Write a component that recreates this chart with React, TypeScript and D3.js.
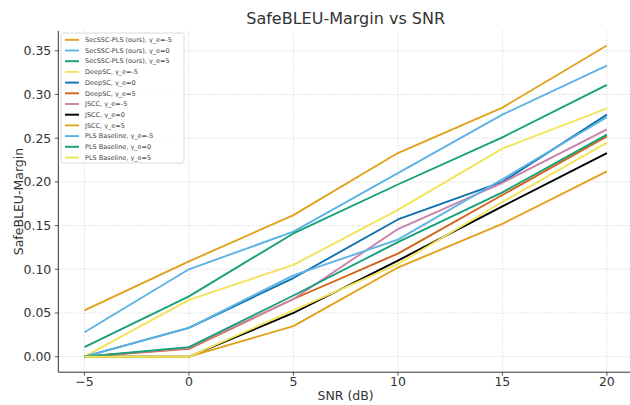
import React from "react";
import * as d3 from "d3";

const snr = [-5, 0, 5, 10, 15, 20];

const seriesNames = [
  "SecSSC-PLS (ours), γ_e=-5",
  "SecSSC-PLS (ours), γ_e=0",
  "SecSSC-PLS (ours), γ_e=5",
  "DeepSC, γ_e=-5",
  "DeepSC, γ_e=0",
  "DeepSC, γ_e=5",
  "JSCC, γ_e=-5",
  "JSCC, γ_e=0",
  "JSCC, γ_e=5",
  "PLS Baseline, γ_e=-5",
  "PLS Baseline, γ_e=0",
  "PLS Baseline, γ_e=5",
];

const secsscM5 = [0.053, 0.109, 0.162, 0.233, 0.285, 0.356];
const secssc0 = [0.028, 0.1, 0.143, 0.21, 0.277, 0.333];
const secssc5 = [0.011, 0.069, 0.141, 0.197, 0.251, 0.311];
const deepscM5 = [0.0, 0.065, 0.105, 0.168, 0.238, 0.284];
const deepsc0 = [0.0, 0.033, 0.09, 0.157, 0.2, 0.277];
const deepsc5 = [0.0, 0.009, 0.066, 0.118, 0.185, 0.252];
const jsccM5 = [0.0, 0.01, 0.066, 0.146, 0.199, 0.26];
const jscc0 = [0.0, 0.0, 0.05, 0.11, 0.172, 0.233];
const jscc5 = [0.0, 0.0, 0.035, 0.102, 0.152, 0.212];
const plsM5 = [0.0, 0.033, 0.093, 0.134, 0.203, 0.274];
const pls0 = [0.0, 0.011, 0.07, 0.131, 0.188, 0.254];
const pls5 = [0.0, 0.0, 0.053, 0.106, 0.177, 0.245];

const seriesValues = [
  secsscM5, secssc0, secssc5,
  deepscM5, deepsc0, deepsc5,
  jsccM5, jscc0, jscc5,
  plsM5, pls0, pls5,
];

const palette = ["#E1A21A", "#5DB3E4", "#16A077", "#F0E45A", "#0F72AE", "#D4631A", "#CC81AB", "#000000"];

const xTicks = [-5, 0, 5, 10, 15, 20];
const yTicks = [0, 0.05, 0.1, 0.15, 0.2, 0.25, 0.3, 0.35];

const W = 630;
const H = 405;
const left = 58.3;
const right = 633;
const top = 30.9;
const bottom = 372.2;

const FONT = "'DejaVu Sans', sans-serif";

export default function App() {
  const x = d3.scaleLinear().domain([-6.25, 21.25]).range([left, right]);
  const y = d3.scaleLinear().domain([-0.01775, 0.37275]).range([bottom, top]);
  const line = d3
    .line<[number, number]>()
    .x((d) => x(d[0]))
    .y((d) => y(d[1]));

  const fmtY = (v: number) => v.toFixed(2);
  const fmtX = (v: number) => (v < 0 ? "\u2212" + Math.abs(v) : String(v));

  const legX = 61;
  const legY = 33;
  const legW = 123;
  const rowH = 10.7;
  const legH = 130;

  return (
    <svg
      width={W}
      height={H}
      style={{ position: "absolute", left: 0, top: 0, background: "#fff" }}
      fontFamily={FONT}
    >
      <rect x={0} y={0} width={W} height={H} fill="#fff" />
      {/* grid */}
      {xTicks.map((t) => (
        <line key={"gx" + t} x1={x(t)} x2={x(t)} y1={top} y2={bottom} stroke="#d3d3d3" strokeWidth={0.8} strokeDasharray="1.5,1.5" />
      ))}
      {yTicks.map((t) => (
        <line key={"gy" + t} x1={left} x2={right} y1={y(t)} y2={y(t)} stroke="#d3d3d3" strokeWidth={0.8} strokeDasharray="1.5,1.5" />
      ))}
      {/* lines */}
      {seriesValues.map((vals, i) => (
        <path
          key={"s" + i}
          d={line(snr.map((s, j) => [s, vals[j]] as [number, number])) || ""}
          fill="none"
          stroke={palette[i % palette.length]}
          strokeWidth={1.9}
          strokeLinejoin="round"
        />
      ))}
      {/* spines */}
      <line x1={left} x2={left} y1={top} y2={bottom} stroke="#333" strokeWidth={1} />
      <line x1={left} x2={right} y1={bottom} y2={bottom} stroke="#333" strokeWidth={1} />
      {/* x ticks */}
      {xTicks.map((t) => (
        <g key={"xt" + t}>
          <line x1={x(t)} x2={x(t)} y1={bottom} y2={bottom + 3.5} stroke="#333" strokeWidth={0.8} />
          <text x={x(t)} y={bottom + 14} textAnchor="middle" fontSize={12.5} fill="#333">
            {fmtX(t)}
          </text>
        </g>
      ))}
      {/* y ticks */}
      {yTicks.map((t) => (
        <g key={"yt" + t}>
          <line x1={left - 3.5} x2={left} y1={y(t)} y2={y(t)} stroke="#333" strokeWidth={0.8} />
          <text x={left - 7} y={y(t)} dy="0.36em" textAnchor="end" fontSize={12.5} fill="#333">
            {fmtY(t)}
          </text>
        </g>
      ))}
      {/* axis labels */}
      <text x={(left + right) / 2} y={400} textAnchor="middle" fontSize={12.5} fill="#333">
        SNR (dB)
      </text>
      <text
        transform={`translate(18, ${(top + bottom) / 2}) rotate(-90)`}
        textAnchor="middle"
        dy="0.36em"
        fontSize={12.5}
        fill="#333"
      >
        SafeBLEU-Margin
      </text>
      {/* title */}
      <text x={(left + right) / 2} y={24} textAnchor="middle" fontSize={16} fill="#333">
        SafeBLEU-Margin vs SNR
      </text>
      {/* legend */}
      <rect x={legX} y={legY} width={legW} height={legH} rx={2} fill="#fff" fillOpacity={0.85} stroke="#d0d0d0" strokeWidth={0.8} />
      {seriesNames.map((name, i) => {
        const cy = legY + 6.8 + i * rowH;
        return (
          <g key={"lg" + i}>
            <line x1={legX + 4} x2={legX + 18} y1={cy} y2={cy} stroke={palette[i % palette.length]} strokeWidth={1.9} />
            <text x={legX + 24} y={cy} dy="0.35em" fontSize={6.5} fill="#444">
              {name}
            </text>
          </g>
        );
      })}
    </svg>
  );
}
